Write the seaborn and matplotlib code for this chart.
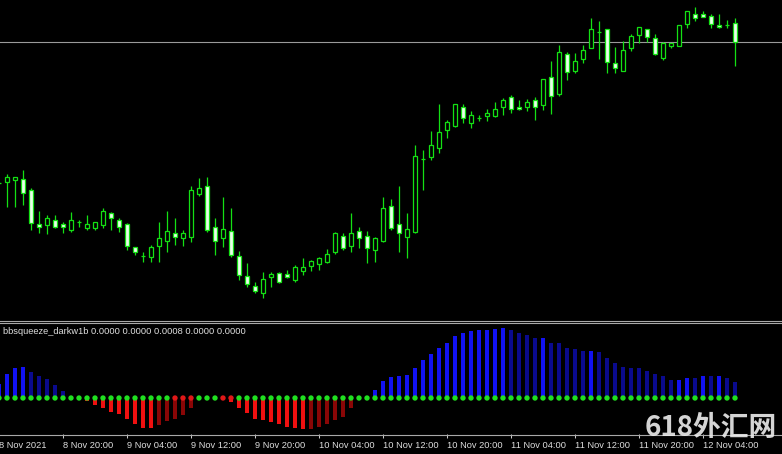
import numpy as np
import pandas as pd
import matplotlib
matplotlib.use("Agg")
import matplotlib.pyplot as plt
import seaborn as sns
from matplotlib import transforms
from matplotlib.lines import Line2D

# ---------------- data (H1 bars, first bar 8 Nov 2021 12:00) ----------------
start_time = "2021-11-08 12:00"

open_ = [
    1.14370,
    1.14383, 1.14400, 1.14407, 1.14300, 1.13960, 1.13950, 1.14000, 1.13960, 1.13900, 1.13977,
    1.13917, 1.13917, 1.13950, 1.14067, 1.14000, 1.13960, 1.13727, 1.13640, 1.13633, 1.13740,
    1.13793, 1.13867, 1.13817, 1.13833, 1.14260, 1.14340, 1.13927, 1.13817, 1.13890, 1.13640,
    1.13440, 1.13340, 1.13273, 1.13430, 1.13473, 1.13457, 1.13400, 1.13493, 1.13543, 1.13560,
    1.13583, 1.13683, 1.13840, 1.13740, 1.13890, 1.13840, 1.13700, 1.13793, 1.14140, 1.13957,
    1.13833, 1.13883, 1.14607, 1.14633, 1.14717, 1.14900, 1.14940, 1.15133, 1.14973, 1.15023,
    1.15043, 1.15043, 1.15133, 1.15227, 1.15133, 1.15127, 1.15200, 1.15150, 1.15427, 1.15260,
    1.15660, 1.15493, 1.15607, 1.15723, 1.15877, 1.15907, 1.15567, 1.15493, 1.15717, 1.15850,
    1.15907, 1.15817, 1.15623, 1.15743, 1.15743, 1.15960, 1.16060, 1.16060, 1.16040, 1.15950,
    1.15950, 1.15967,
]
high = [
    1.14380,
    1.14460, 1.14433, 1.14500, 1.14317, 1.14090, 1.14050, 1.14050, 1.13983, 1.14077, 1.14000,
    1.14050, 1.13967, 1.14123, 1.14083, 1.14017, 1.13967, 1.13733, 1.13683, 1.13750, 1.13983,
    1.14090, 1.14017, 1.13900, 1.14340, 1.14417, 1.14433, 1.14017, 1.14233, 1.14117, 1.13690,
    1.13567, 1.13383, 1.13483, 1.13477, 1.13483, 1.13500, 1.13550, 1.13617, 1.13600, 1.13633,
    1.13710, 1.13883, 1.13867, 1.14073, 1.13927, 1.13893, 1.13833, 1.14233, 1.14207, 1.14340,
    1.14073, 1.14750, 1.14700, 1.14890, 1.15160, 1.15000, 1.15160, 1.15157, 1.15090, 1.15050,
    1.15110, 1.15177, 1.15223, 1.15250, 1.15200, 1.15207, 1.15227, 1.15415, 1.15590, 1.15750,
    1.15677, 1.15667, 1.15750, 1.16017, 1.15993, 1.15910, 1.15727, 1.15790, 1.15860, 1.15930,
    1.15910, 1.15857, 1.15783, 1.15770, 1.15953, 1.16090, 1.16133, 1.16090, 1.16060, 1.16060,
    1.16000, 1.16017,
]
low = [
    1.14360,
    1.14133, 1.14133, 1.14150, 1.13900, 1.13867, 1.13860, 1.13917, 1.13867, 1.13883, 1.13927,
    1.13900, 1.13900, 1.13923, 1.13900, 1.13883, 1.13700, 1.13650, 1.13583, 1.13583, 1.13577,
    1.13683, 1.13750, 1.13743, 1.13783, 1.14243, 1.13883, 1.13650, 1.13733, 1.13633, 1.13400,
    1.13333, 1.13267, 1.13223, 1.13333, 1.13367, 1.13417, 1.13383, 1.13450, 1.13493, 1.13500,
    1.13567, 1.13657, 1.13700, 1.13683, 1.13723, 1.13567, 1.13577, 1.13783, 1.13900, 1.13683,
    1.13617, 1.13867, 1.14300, 1.14600, 1.14667, 1.14817, 1.14930, 1.14973, 1.14917, 1.14993,
    1.14993, 1.15033, 1.15050, 1.15067, 1.15100, 1.15090, 1.15000, 1.15100, 1.15060, 1.15243,
    1.15400, 1.15467, 1.15567, 1.15717, 1.15607, 1.15473, 1.15473, 1.15490, 1.15693, 1.15767,
    1.15783, 1.15650, 1.15600, 1.15717, 1.15740, 1.15917, 1.15993, 1.16033, 1.15917, 1.15917,
    1.15917, 1.15540,
]
close = [
    1.14370,
    1.14427, 1.14427, 1.14267, 1.13973, 1.13927, 1.14023, 1.13927, 1.13927, 1.14000, 1.13977,
    1.13960, 1.13983, 1.14090, 1.14017, 1.13927, 1.13743, 1.13683, 1.13640, 1.13733, 1.13817,
    1.13890, 1.13833, 1.13873, 1.14300, 1.14317, 1.13900, 1.13793, 1.13910, 1.13650, 1.13450,
    1.13360, 1.13293, 1.13407, 1.13460, 1.13383, 1.13430, 1.13533, 1.13527, 1.13590, 1.13617,
    1.13657, 1.13867, 1.13717, 1.13867, 1.13817, 1.13723, 1.13817, 1.14117, 1.13917, 1.13867,
    1.13907, 1.14640, 1.14607, 1.14747, 1.14883, 1.14977, 1.15157, 1.15017, 1.15050, 1.15023,
    1.15067, 1.15110, 1.15200, 1.15107, 1.15107, 1.15177, 1.15133, 1.15407, 1.15243, 1.15677,
    1.15477, 1.15590, 1.15700, 1.15907, 1.15877, 1.15583, 1.15517, 1.15700, 1.15840, 1.15927,
    1.15833, 1.15657, 1.15773, 1.15767, 1.15950, 1.16090, 1.16017, 1.16033, 1.15960, 1.15927,
    1.15950, 1.15783,
]

# bbsqueeze histogram value per bar
squeeze_value = [
    0.00070,
    0.00120, 0.00150, 0.00155, 0.00130, 0.00110, 0.00095, 0.00065, 0.00035, 0.00002, 0.0,
    -0.00015, -0.00035, -0.00050, -0.00070, -0.00080, -0.00105, -0.00130, -0.00148, -0.00150, -0.00135,
    -0.00115, -0.00105, -0.00085, -0.00050, 0.0, 0.0, 0.0, 0.0, -0.00020, -0.00050,
    -0.00075, -0.00103, -0.00110, -0.00118, -0.00130, -0.00143, -0.00148, -0.00155, -0.00153, -0.00145,
    -0.00130, -0.00110, -0.00093, -0.00048, 0.0, 0.0, 0.00040, 0.00085, 0.00105, 0.00112,
    0.00113, 0.00150, 0.00188, 0.00222, 0.00249, 0.00275, 0.00310, 0.00324, 0.00335, 0.00341,
    0.00342, 0.00347, 0.00352, 0.00342, 0.00327, 0.00315, 0.00298, 0.00299, 0.00275, 0.00274,
    0.00250, 0.00243, 0.00233, 0.00236, 0.00229, 0.00201, 0.00176, 0.00154, 0.00151, 0.00148,
    0.00134, 0.00121, 0.00110, 0.00090, 0.00092, 0.00100, 0.00099, 0.00112, 0.00110, 0.00111,
    0.00098, 0.00080,
]
# squeeze state (1 = bands inside Keltner -> red dot)
squeeze_on = [
    0,
    0, 0, 0, 0, 0, 0, 0, 0, 0, 0,
    0, 0, 0, 0, 0, 0, 0, 0, 0, 0,
    0, 1, 1, 1, 0, 0, 0, 1, 1, 0,
    0, 0, 0, 0, 0, 0, 0, 0, 0, 0,
    0, 0, 0, 0, 0, 0, 0, 0, 0, 0,
    0, 0, 0, 0, 0, 0, 0, 0, 0, 0,
    0, 0, 0, 0, 0, 0, 0, 0, 0, 0,
    0, 0, 0, 0, 0, 0, 0, 0, 0, 0,
    0, 0, 0, 0, 0, 0, 0, 0, 0, 0,
    0, 0,
]

tick_times = ["2021-11-08 12:00", "2021-11-08 20:00", "2021-11-09 04:00", "2021-11-09 12:00",
              "2021-11-09 20:00", "2021-11-10 04:00", "2021-11-10 12:00", "2021-11-10 20:00",
              "2021-11-11 04:00", "2021-11-11 12:00", "2021-11-11 20:00", "2021-11-12 04:00"]
tick_labels = ["8 Nov 2021", "8 Nov 20:00", "9 Nov 04:00", "9 Nov 12:00",
               "9 Nov 20:00", "10 Nov 04:00", "10 Nov 12:00", "10 Nov 20:00",
               "11 Nov 04:00", "11 Nov 12:00", "11 Nov 20:00", "12 Nov 04:00"]

indicator_title = "bbsqueeze_darkw1b 0.0000 0.0000 0.0008 0.0000 0.0000"
watermark = "618外汇网"

# ---------------- styling ----------------
W, H = 782.0, 454.0
BG = "black"
GREEN = "#14e014"
BEAR_FILL = "#eaffea"
GREY = "#a8a8a8"
TXT = "#dedede"
FONT = "Liberation Sans"

times = pd.date_range(start_time, periods=len(close), freq="h")
pos = np.arange(len(times))

fig = plt.figure(figsize=(W / 100, H / 100), dpi=100, facecolor=BG)
ax_main = fig.add_axes([0, 1 - 320 / H, 1, 320 / H])
ax_ind = fig.add_axes([0, 1 - 434 / H, 1, 111 / H])
for ax in (ax_main, ax_ind):
    ax.set_facecolor(BG)
    for s in ax.spines.values():
        s.set_visible(False)

# ---------------- candles ----------------
o = np.array(open_); c = np.array(close); h = np.array(high); l = np.array(low)
bull = c >= o
ax_main.axhline(c[-1], color="#9a9a9a", lw=0.8, zorder=1)
ax_main.vlines(pos, l, h, color=GREEN, lw=0.9, zorder=2)
ax_main.bar(pos, np.abs(c - o), bottom=np.minimum(o, c), width=0.5,
            color=np.where(bull, BG, BEAR_FILL), edgecolor=GREEN, linewidth=0.9, zorder=3)
ax_main.set_ylim(1.1300, 1.1620)
ax_main.set_xticks([]); ax_main.set_yticks([])

# ---------------- indicator ----------------
vals = np.array(squeeze_value)
prev_abs = np.abs(np.concatenate([[0.0], vals[:-1]]))
rising = np.abs(vals) > prev_abs
state = np.where(vals >= 0, np.where(rising, "up_strong", "up_weak"),
                 np.where(rising, "down_strong", "down_weak"))
df = pd.DataFrame({"pos": pos, "value": vals, "state": state,
                   "squeeze": np.where(np.array(squeeze_on) == 1, "on", "off"),
                   "zero": 0.0})
bar_pal = {"up_strong": "#1212f2", "up_weak": "#0a0a8e",
           "down_strong": "#f01010", "down_weak": "#8a0606"}
sns.barplot(data=df, x="pos", y="value", hue="state", palette=bar_pal, native_scale=True,
            width=0.58, dodge=False, linewidth=0, saturation=1, errorbar=None,
            legend=False, ax=ax_ind)
sns.scatterplot(data=df, x="pos", y="zero", hue="squeeze",
                palette={"off": "#20e020", "on": "#e01818"}, s=15, linewidth=0,
                legend=False, ax=ax_ind, zorder=5)
ax_ind.set_ylim(-0.0018, 0.00375)
ax_ind.set_xlabel(""); ax_ind.set_ylabel("")
ax_ind.set_yticks([])

tick_pos = [int(np.where(times == pd.Timestamp(t))[0][0]) for t in tick_times]
ax_ind.set_xticks(tick_pos)
ax_ind.tick_params(axis="x", direction="out", length=3, width=0.75, colors="#c8c8c8",
                   labelbottom=False)

for ax in (ax_main, ax_ind):
    ax.set_xlim(1 / 8, (W + 1) / 8)

# separators / borders
for ypx in (320.5, 322.5, 434.5):
    fig.add_artist(Line2D([0, 1], [1 - ypx / H, 1 - ypx / H], color=GREY, lw=0.8,
                          transform=fig.transFigure))

# time labels
trans = transforms.blended_transform_factory(ax_ind.transData, fig.transFigure)
for p, lab in zip(tick_pos, tick_labels):
    ax_ind.text(p + 0.05, 1 - 447.5 / H, lab, transform=trans, ha="left", va="baseline",
                fontsize=6.7, color=TXT, family=FONT, clip_on=False)

fig.text(3 / W, 1 - 334.3 / H, indicator_title, ha="left", va="baseline",
         fontsize=6.65, color=TXT, family=FONT)

fig.text(711 / W, 1 - 428 / H, watermark, ha="center", va="center", fontsize=20,
         fontweight="bold", color="#ececec", alpha=0.9,
         family=["Noto Sans CJK SC", "DejaVu Sans"])

fig.savefig("out.png", dpi=100, facecolor=BG)
